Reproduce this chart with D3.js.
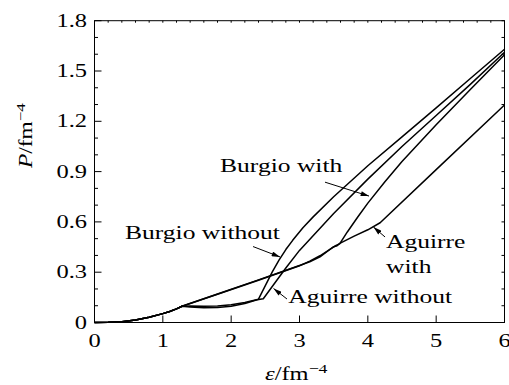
<!DOCTYPE html>
<html>
<head>
<meta charset="utf-8">
<script src="https://cdn.jsdelivr.net/npm/d3@7"></script>
<style>
  body { margin: 0; background: #fff; }
  text { font-family: "Liberation Serif", serif; fill: #000; }
</style>
</head>
<body>
<div id="grafico"></div>
<script>
// ---- dados ----
const epsCommon = [0, 0.2, 0.4, 0.6, 0.8, 1.0, 1.1, 1.2, 1.28];
const pCommon   = [0, 0.001, 0.005, 0.015, 0.031, 0.053, 0.066, 0.081, 0.097];

const burgioWithoutEps = [1.4, 1.6, 1.8, 2.0, 2.2, 2.4, 2.5, 2.6, 2.7, 2.8, 2.9, 3.05, 3.2, 3.5, 4.0, 4.5, 5.0, 5.5, 6.0];
const burgioWithoutP   = [0.098, 0.097, 0.099, 0.106, 0.119, 0.139, 0.22, 0.30, 0.372, 0.435, 0.49, 0.565, 0.63, 0.75, 0.935, 1.107, 1.28, 1.455, 1.63];

const aguirreWithoutEps = [1.4, 1.6, 1.8, 2.0, 2.2, 2.38, 2.47, 2.62, 2.8, 3.0, 3.5, 4.0, 4.5, 5.0, 5.5, 6.0];
const aguirreWithoutP   = [0.092, 0.088, 0.089, 0.097, 0.113, 0.136, 0.142, 0.225, 0.325, 0.43, 0.65, 0.855, 1.05, 1.235, 1.42, 1.612];

const burgioWithEps = [1.8, 2.4, 3.0, 3.15, 3.3, 3.45, 3.52, 3.59, 3.7, 3.85, 4.0, 4.25, 4.5, 5.0, 5.5, 6.0];
const burgioWithP   = [0.168, 0.252, 0.338, 0.366, 0.398, 0.438, 0.456, 0.47, 0.54, 0.628, 0.712, 0.84, 0.96, 1.18, 1.39, 1.597];

const aguirreWithEps = [1.8, 2.4, 3.0, 3.15, 3.3, 3.42, 3.5, 3.55, 3.59, 3.8, 4.0, 4.18, 5.0, 6.0];
const aguirreWithP   = [0.170, 0.254, 0.340, 0.362, 0.392, 0.428, 0.452, 0.458, 0.472, 0.515, 0.553, 0.595, 0.912, 1.297];

const xTicks = [0, 1, 2, 3, 4, 5, 6];
const yTicks = [0, 0.3, 0.6, 0.9, 1.2, 1.5, 1.8];

// rótulos: texto, posição (dados), ponta e cauda da seta (dados)
const labelNames = ["Burgio with", "Burgio without", "Aguirre without", "Aguirre", "with"];
const labelPos   = [[1.837, 0.899], [0.446, 0.496], [2.836, 0.118], [4.266, 0.442], [4.266, 0.293]];
const arrowFrom  = [[3.373, 0.837], [2.320, 0.453], [2.817, 0.140], [4.252, 0.510]];
const arrowTo    = [[4.017, 0.754], [2.715, 0.391], [2.620, 0.203], [4.083, 0.569]];

// ---- dimensões e escalas ----
const width = 509, height = 385;
const marginLeft = 94.5, marginRight = 504.5, marginTop = 20.7, marginBottom = 322.5;

const x = d3.scaleLinear().domain([0, 6]).range([marginLeft, marginRight]);
const y = d3.scaleLinear().domain([0, 1.8]).range([marginBottom, marginTop]);

const svg = d3.select("#grafico").append("svg")
    .attr("width", width)
    .attr("height", height)
    .attr("viewBox", [0, 0, width, height]);

svg.append("defs").append("marker")
    .attr("id", "seta")
    .attr("viewBox", "0 0 10 6")
    .attr("refX", 10).attr("refY", 3)
    .attr("markerWidth", 9).attr("markerHeight", 5)
    .attr("markerUnits", "userSpaceOnUse")
    .attr("orient", "auto")
    .append("path").attr("d", "M0,0 L10,3 L0,6 Z").attr("fill", "#000");

// texto esticado na horizontal (a figura original está alargada)
function texto(g, px, py, str, size, sx, anchor) {
    return g.append("text")
        .attr("transform", `translate(${px},${py}) scale(${sx},1)`)
        .attr("font-size", size)
        .attr("text-anchor", anchor || "start")
        .text(str);
}

// ---- eixos ----
const frame = svg.append("g").attr("stroke", "#000").attr("stroke-width", 1).attr("fill", "none");
frame.append("rect").attr("x", marginLeft).attr("y", marginTop)
    .attr("width", marginRight - marginLeft).attr("height", marginBottom - marginTop);

const yMinor = d3.range(0, 1.81, 0.1);
frame.selectAll(".yl").data(yMinor).join("line")
    .attr("x1", marginLeft).attr("x2", (d, i) => marginLeft + (i % 3 === 0 ? 7 : 3.5))
    .attr("y1", d => y(d)).attr("y2", d => y(d));
frame.selectAll(".yr").data(yMinor).join("line")
    .attr("x1", marginRight).attr("x2", marginRight - 3)
    .attr("y1", d => y(d)).attr("y2", d => y(d));
frame.selectAll(".xb").data(xTicks).join("line")
    .attr("x1", d => x(d)).attr("x2", d => x(d))
    .attr("y1", marginBottom).attr("y2", marginBottom - 7);
frame.selectAll(".xt").data(d3.range(0, 6.01, 0.2)).join("line")
    .attr("x1", d => x(d)).attr("x2", d => x(d))
    .attr("y1", marginTop).attr("y2", marginTop + 2);

const labels = svg.append("g");
yTicks.forEach(v => texto(labels, 87, y(v) + 6, d3.format(v === 0 ? "d" : ".1f")(v), 18, 1.36, "end"));
xTicks.forEach(v => texto(labels, x(v), 346.5, v, 18, 1.36, "middle"));

// títulos dos eixos
const xt = labels.append("text")
    .attr("transform", "translate(265,380) scale(1.36,1)")
    .attr("font-size", 18);
xt.append("tspan").attr("font-style", "italic").text("ε");
xt.append("tspan").text("/fm");
xt.append("tspan").attr("font-size", 13).attr("dy", -7).text("−4");

const yt = labels.append("text")
    .attr("transform", "translate(32,168) rotate(-90) scale(1.3,1)")
    .attr("font-size", 18);
yt.append("tspan").attr("font-style", "italic").text("P");
yt.append("tspan").text("/fm");
yt.append("tspan").attr("font-size", 13).attr("dy", -7).text("−4");

// ---- curvas ----
function serie(eps, p) {
    const ps = pCommon.concat(p);
    return epsCommon.concat(eps).map((e, i) => [e, ps[i]]);
}
const curves = [
    serie(burgioWithoutEps, burgioWithoutP),
    serie(aguirreWithoutEps, aguirreWithoutP),
    serie(burgioWithEps, burgioWithP),
    serie(aguirreWithEps, aguirreWithP)
];
const line = d3.line().x(d => x(d[0])).y(d => y(d[1]));

svg.append("g").selectAll("path").data(curves).join("path")
    .attr("d", line)
    .attr("fill", "none")
    .attr("stroke", "#000")
    .attr("stroke-width", 1.5)
    .attr("stroke-linejoin", "round");

// ---- anotações ----
labelNames.forEach((s, i) => texto(labels, x(labelPos[i][0]), y(labelPos[i][1]), s, 18, 1.42));

svg.append("g").selectAll("line").data(arrowFrom).join("line")
    .attr("x1", d => x(d[0])).attr("y1", d => y(d[1]))
    .attr("x2", (d, i) => x(arrowTo[i][0])).attr("y2", (d, i) => y(arrowTo[i][1]))
    .attr("stroke", "#000").attr("stroke-width", 1)
    .attr("marker-end", "url(#seta)");
</script>
</body>
</html>
